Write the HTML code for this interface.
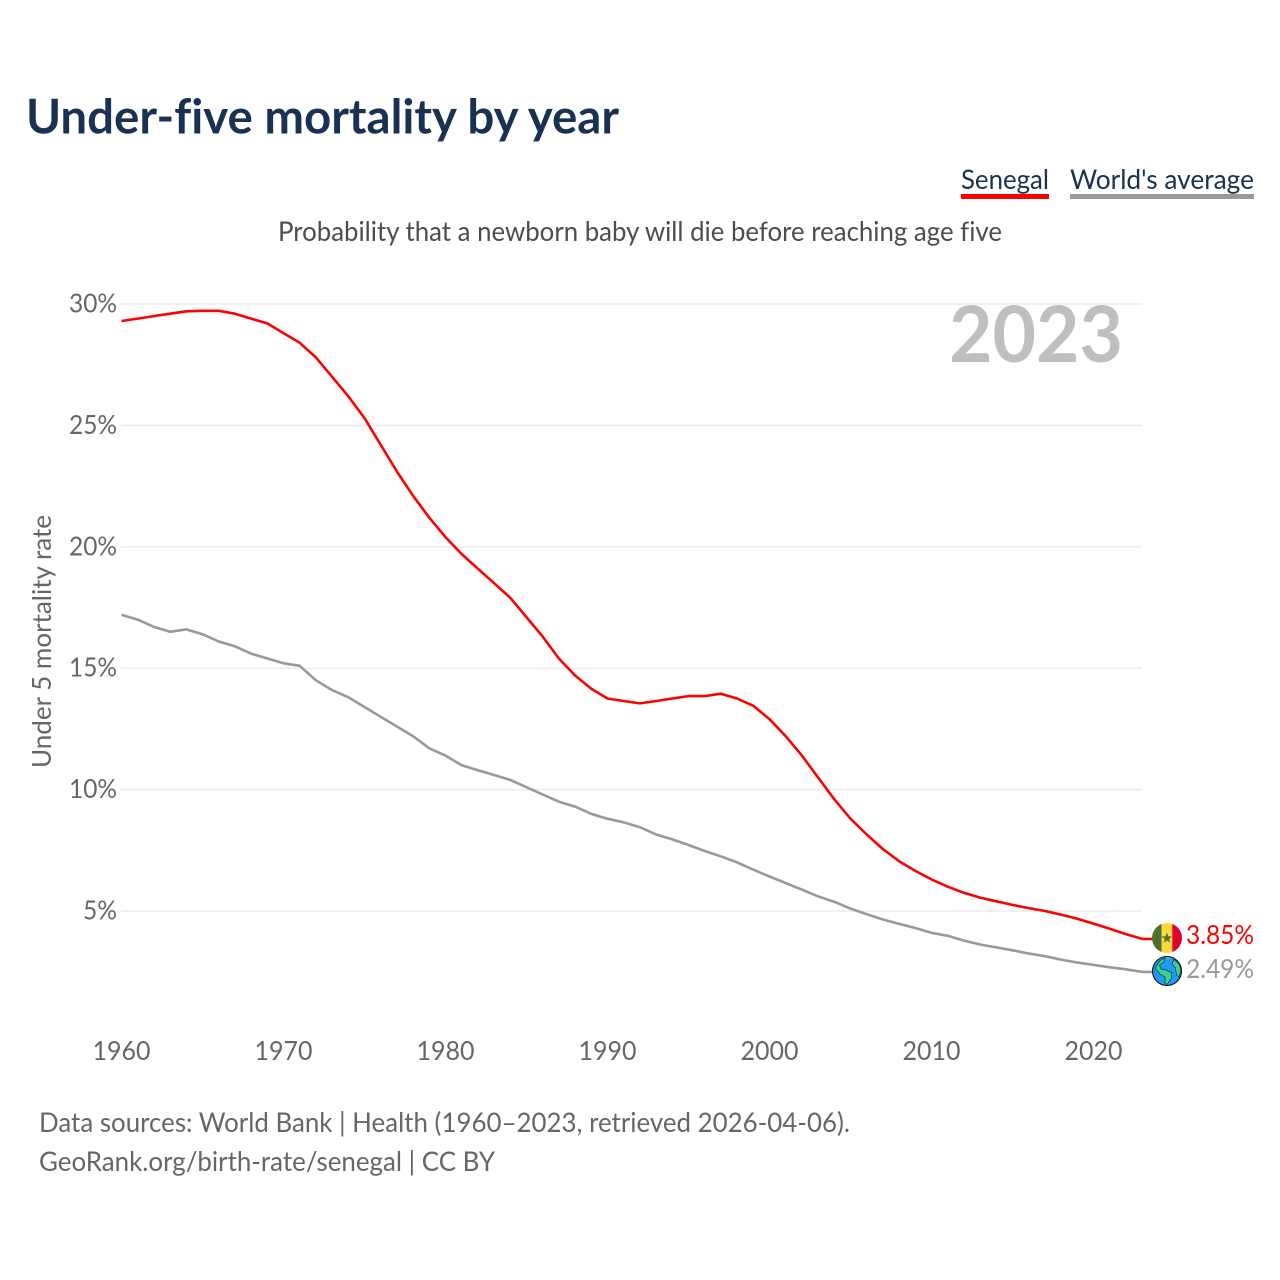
<!DOCTYPE html>
<html lang="en">
<head>
<meta charset="utf-8">
<title>Under-five mortality by year</title>
<style>
html,body{margin:0;padding:0;background:#fff;width:1280px;height:1280px;overflow:hidden}
svg{display:block}
text{font-family:"Lato","Carlito","Liberation Sans",sans-serif;font-variant-ligatures:none}
</style>
</head>
<body>
<svg id="chart" xmlns="http://www.w3.org/2000/svg" width="1280" height="1280" viewBox="0 0 1280 1280">
  <rect width="1280" height="1280" fill="#fff"/>
  <text x="26" y="133.5" font-size="48" font-weight="700" fill="#1a3152" textLength="593" lengthAdjust="spacingAndGlyphs">Under-five mortality by year</text>
  <g>
    <text x="961" y="189" font-size="27" fill="#1a3152" textLength="88" lengthAdjust="spacingAndGlyphs">Senegal</text>
    <rect x="961" y="194" width="88" height="5" fill="#ff0000"/>
  </g>
  <g>
    <text x="1070" y="189" font-size="27" fill="#1a3152" textLength="184" lengthAdjust="spacingAndGlyphs">World's average</text>
    <rect x="1070" y="194" width="184" height="5" fill="#999999"/>
  </g>
  <text x="278" y="241" font-size="27" fill="#4d4d4d" textLength="724" lengthAdjust="spacingAndGlyphs">Probability that a newborn baby will die before reaching age five</text>
  <text transform="translate(51,768) rotate(-90)" font-size="26" fill="#666" textLength="253" lengthAdjust="spacingAndGlyphs">Under 5 mortality rate</text>
  <g id="grid"></g>
  <g id="yticks"></g>
  <g id="xticks"></g>
  <text x="949" y="362" font-size="78" font-weight="700" fill="#bfbfbf" textLength="174" lengthAdjust="spacingAndGlyphs">2023</text>
  <g id="series"></g>

  <g id="flag-senegal">
    <clipPath id="flag-clip"><circle cx="1167" cy="938" r="15"/></clipPath>
    <g clip-path="url(#flag-clip)">
      <rect x="1152" y="923" width="9.7" height="30" fill="#4f6f2a"/>
      <rect x="1161.7" y="923" width="10.6" height="30" fill="#ffd83d"/>
      <rect x="1172.3" y="923" width="9.7" height="30" fill="#e0002d"/>
    </g>
    <polygon points="1167,932.5 1168.4,936.4 1172.5,936.4 1169.2,938.9 1170.4,942.9 1167,940.5 1163.6,942.9 1164.8,938.9 1161.5,936.4 1165.6,936.4" fill="#4f7a28"/>
  </g>
  <g id="globe">
    <circle cx="1167" cy="971" r="14.5" fill="#1e9bf5"/>
    <path d="M1160 960.5 L1165 958 L1164 962 L1159.5 965 L1161 969 L1166 970 L1172 973 L1171 979 L1167 984.5 L1165 983 L1165 977 L1160 974 L1155 968 Z" fill="#3ecf8e" stroke="#14304a" stroke-width="0.7"/>
    <path d="M1174 959.5 L1179 964 L1181 970 L1179 977 L1176.5 975 L1175.5 968 L1172 964 Z" fill="#3ecf8e" stroke="#14304a" stroke-width="0.7"/>
    <path d="M1165 957 L1171 957 L1168 960 Z" fill="#3ecf8e"/>
    <circle cx="1167" cy="971" r="14.5" fill="none" stroke="#111" stroke-width="1.1"/>
  </g>
  <text id="value-senegal" x="1186" y="944" font-size="26" fill="#ff0000" textLength="68" lengthAdjust="spacingAndGlyphs"></text>
  <text id="value-world" x="1186" y="978" font-size="26" fill="#999999" textLength="68" lengthAdjust="spacingAndGlyphs"></text>

  <text x="39" y="1132" font-size="27" fill="#666" textLength="811" lengthAdjust="spacingAndGlyphs">Data sources: World Bank | Health (1960–2023, retrieved 2026-04-06).</text>
  <text x="39" y="1171" font-size="27" fill="#666" textLength="456" lengthAdjust="spacingAndGlyphs">GeoRank.org/birth-rate/senegal | CC BY</text>
</svg>
<script>
const startYear = 1960;
const senegalValues = [29.3,29.4,29.5,29.6,29.7,29.72,29.72,29.6,29.4,29.2,28.8,28.4,27.8,27.0,26.2,25.3,24.2,23.1,22.1,21.2,20.4,19.7,19.1,18.5,17.9,17.1,16.3,15.4,14.7,14.15,13.75,13.65,13.55,13.65,13.75,13.85,13.85,13.95,13.75,13.45,12.9,12.2,11.4,10.5,9.6,8.8,8.15,7.55,7.05,6.65,6.3,6.0,5.75,5.55,5.4,5.25,5.12,5.0,4.85,4.68,4.48,4.27,4.05,3.85];
const worldValues = [17.2,17.0,16.7,16.5,16.6,16.4,16.1,15.9,15.6,15.4,15.2,15.1,14.5,14.1,13.8,13.4,13.0,12.6,12.2,11.7,11.4,11.0,10.8,10.6,10.4,10.1,9.8,9.5,9.3,9.0,8.8,8.65,8.45,8.15,7.95,7.72,7.47,7.25,7.0,6.7,6.42,6.15,5.88,5.6,5.38,5.1,4.87,4.65,4.47,4.3,4.1,3.98,3.78,3.62,3.5,3.38,3.25,3.14,3.0,2.88,2.78,2.68,2.6,2.49];
const yTickValues = [5,10,15,20,25,30];
const xTickValues = [1960,1970,1980,1990,2000,2010,2020];

const NS = 'http://www.w3.org/2000/svg';
function xScale(year){ return 121.5 + (year - 1960) * 16.2; }
function yScale(v){ return 911 - (v - 5) * 24.28; }
function make(tag, parent){
  const el = document.createElementNS(NS, tag);
  parent.appendChild(el);
  return el;
}
const grid = document.getElementById('grid');
const yticks = document.getElementById('yticks');
const xticks = document.getElementById('xticks');
const series = document.getElementById('series');

yTickValues.forEach(function(v){
  const line = make('line', grid);
  
  
  line.setAttribute('x1', 121);
  line.setAttribute('x2', 1142);
  line.setAttribute('y1', yScale(v));
  line.setAttribute('y2', yScale(v));
  line.setAttribute('stroke', '#ececec');
  line.setAttribute('stroke-width', 1.5);

  const t = make('text', yticks);
  
  
  t.setAttribute('x', 117);
  t.setAttribute('y', yScale(v) + 8.5);
  t.setAttribute('text-anchor', 'end');
  t.setAttribute('font-size', 26);
  t.setAttribute('fill', '#666');
  t.setAttribute('textLength', v < 10 ? 34 : 48);
  t.setAttribute('lengthAdjust', 'spacingAndGlyphs');
  t.textContent = v + '%';
});

xTickValues.forEach(function(y){
  const t = make('text', xticks);
  
  
  t.setAttribute('x', xScale(y));
  t.setAttribute('y', 1060);
  t.setAttribute('text-anchor', 'middle');
  t.setAttribute('font-size', 26);
  t.setAttribute('fill', '#666');
  t.setAttribute('textLength', 58);
  t.setAttribute('lengthAdjust', 'spacingAndGlyphs');
  t.textContent = y;
});

function drawLine(values, color, name){
  const pts = values.map(function(v, i){
    return xScale(startYear + i).toFixed(1) + ',' + yScale(v).toFixed(1);
  });
  const last = yScale(values[values.length - 1]);
  pts.push('1153,' + last.toFixed(1));
  const p = make('polyline', series);
  
  
  p.setAttribute('points', pts.join(' '));
  p.setAttribute('fill', 'none');
  p.setAttribute('stroke', color);
  p.setAttribute('stroke-width', 2.6);
  p.setAttribute('stroke-linejoin', 'round');
}
drawLine(worldValues, '#999999', 'world-average-line');
drawLine(senegalValues, '#ff0000', 'senegal-line');

document.getElementById('value-senegal').textContent = senegalValues[senegalValues.length - 1].toFixed(2) + '%';
document.getElementById('value-world').textContent = worldValues[worldValues.length - 1].toFixed(2) + '%';
</script>
</body>
</html>
